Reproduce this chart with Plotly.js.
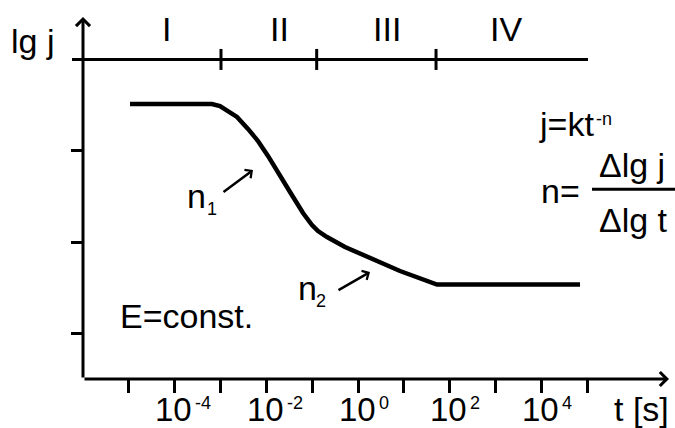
<!DOCTYPE html>
<html>
<head>
<meta charset="utf-8">
<script src="https://cdn.plot.ly/plotly-3.0.1.min.js"></script>
<style>html,body{margin:0;padding:0;background:#fff;}#chart{width:675px;height:428px;}</style>
</head>
<body>
<div id="chart"></div>
<script>
// ---- data ----
var lgT = [-4.967, -3.660, -3.181, -3.007, -2.832, -2.636, -2.397, -2.179, -1.961, -1.765, -1.481, -1.198, -1.002, -0.871, -0.675, -0.283, 0.196, 0.915, 1.721, 4.837];
var lgJ = [3.512, 3.512, 3.512, 3.490, 3.436, 3.370, 3.239, 3.107, 2.943, 2.790, 2.548, 2.318, 2.187, 2.121, 2.055, 1.946, 1.836, 1.683, 1.535, 1.535];
var xTickVals = [-5, -4, -3, -2, -1, 0, 1, 2, 3, 4, 5];
var xLabelVals = [-4, -2, 0, 2, 4];
var xLabelBase = '10';
var xLabelExp = ['-4', '-2', '0', '2', '4'];
var yTickVals = [1, 2, 3];
var regionBounds = [-2.985, -0.9, 1.7];
var regionNames = ['I', 'II', 'III', 'IV'];
var regionCenters = [-4.17, -1.70, 0.64, 3.23];
var topLineLevel = 4;

// ---- layout helpers (pixel -> paper) ----
var L = 83, T = 13, W = 592, H = 366;
var PXDEC = 45.9, X0PX = 358, PXUNIT = 91.3;
function px(x) { return (x - L) / W; }
function py(y) { return (T + H - y) / H; }

var FONT = 'Liberation Sans, Arial, sans-serif';
var FS = 34;

var annotations = [];
function txt(text, x, y, anchor, size, pad) {
  annotations.push({text: text, xref: 'paper', yref: 'paper', x: px(x), y: py(y),
    xanchor: anchor || 'left', yanchor: 'middle', showarrow: false,
    borderpad: pad === undefined ? 1 : pad,
    font: {family: FONT, size: size || FS, color: '#000'}});
}
function arrow(hx, hy, tx, ty, w, s) {
  annotations.push({text: '', xref: 'paper', yref: 'paper', x: px(hx), y: py(hy),
    ax: tx - hx, ay: ty - hy, showarrow: true, arrowhead: 4, arrowwidth: w, arrowsize: s,
    arrowcolor: '#000', standoff: 0});
}

// axes with arrows
arrow(83, 17, 83, 379, 3, 0.9);
arrow(669, 379, 83, 379, 3, 0.9);

// labels
txt('lg j', 32.5, 40.7, 'center');
for (var i = 0; i < regionNames.length; i++) {
  annotations.push({text: regionNames[i], xref: 'x', yref: 'paper', x: regionCenters[i], y: py(29.2),
    xanchor: 'center', yanchor: 'middle', showarrow: false, font: {family: FONT, size: FS, color: '#000'}});
}
txt('j=kt', 537, 124.2, 'left');
txt('-n', 594, 119, 'left', 18);
txt('n=', 539, 191.2, 'left');
txt('\u0394lg j', 597, 165.2, 'left');
txt('\u0394lg t', 597, 220.2, 'left');
txt('n', 185, 196.2, 'left');
txt('1', 205, 209, 'left', 18);
txt('n', 296, 288.2, 'left');
txt('2', 313.5, 300.5, 'left', 18);
txt('E=const.', 118.3, 316.2, 'left');
txt('t [s]', 613, 409, 'left', 34, 0);
arrow(253, 170, 222, 193, 2.5, 0.8);
arrow(370, 272, 337, 291, 2.5, 0.8);
for (var k = 0; k < xLabelVals.length; k++) {
  annotations.push({text: xLabelBase,
    xref: 'x', yref: 'paper', x: xLabelVals[k], y: py(409.5), xshift: -1, borderpad: 0,
    xanchor: 'center', yanchor: 'middle', showarrow: false,
    font: {family: FONT, size: 33, color: '#000'}});
  annotations.push({text: xLabelExp[k],
    xref: 'x', yref: 'paper', x: xLabelVals[k], y: py(403), xshift: 18.5,
    xanchor: 'left', yanchor: 'middle', showarrow: false,
    font: {family: FONT, size: 18, color: '#000'}});
}

var shapes = [
  {type: 'line', xref: 'paper', yref: 'y', x0: px(72), x1: px(588), y0: topLineLevel, y1: topLineLevel,
   line: {color: '#000', width: 3}},
  {type: 'line', xref: 'paper', yref: 'paper', x0: px(592), x1: px(676), y0: py(189.3), y1: py(189.3),
   line: {color: '#000', width: 3}}
];
regionBounds.forEach(function (b) {
  shapes.push({type: 'line', xref: 'x', yref: 'y', x0: b, x1: b, y0: topLineLevel - 0.115, y1: topLineLevel + 0.115,
    line: {color: '#000', width: 3}});
});

var trace = {x: lgT, y: lgJ, mode: 'lines', type: 'scatter',
  line: {color: '#000', width: 4.5}, hoverinfo: 'skip'};

var layout = {
  width: 675, height: 428,
  margin: {l: L, r: 675 - L - W, t: T, b: 428 - T - H, pad: 0},
  paper_bgcolor: '#fff', plot_bgcolor: '#fff',
  showlegend: false,
  font: {family: FONT, color: '#000'},
  xaxis: {range: [(L - X0PX) / PXDEC, (L + W - X0PX) / PXDEC], showgrid: false, zeroline: false, showline: false,
    tickmode: 'array', tickvals: xTickVals, ticks: 'outside', ticklen: 13, tickwidth: 3, tickcolor: '#000',
    showticklabels: false, fixedrange: true},
  yaxis: {range: [0.5, 0.5 + H / PXUNIT], showgrid: false, zeroline: false, showline: false,
    tickmode: 'array', tickvals: yTickVals, ticks: 'outside', ticklen: 11, tickwidth: 3, tickcolor: '#000',
    showticklabels: false, fixedrange: true},
  shapes: shapes,
  annotations: annotations
};

Plotly.newPlot('chart', [trace], layout, {displayModeBar: false, staticPlot: true});
</script>
</body>
</html>
